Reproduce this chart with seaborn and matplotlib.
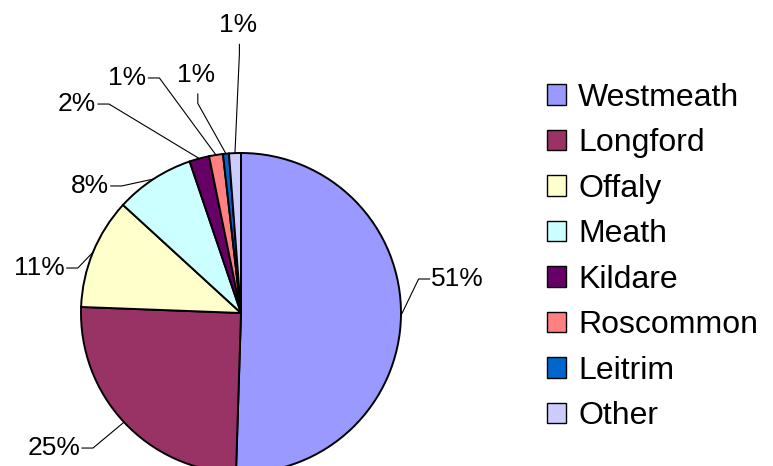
import numpy as np
import matplotlib
matplotlib.use("Agg")
import matplotlib.pyplot as plt
import seaborn as sns
from matplotlib.patches import Patch

# Data (share in %)
counties = ["Westmeath", "Longford", "Offaly", "Meath", "Kildare", "Roscommon", "Leitrim", "Other"]
shares = [50.5, 25.1, 11.2, 8.0, 2.0, 1.4, 0.6, 1.2]
colors = ["#9999FF", "#993366", "#FFFFCC", "#CCFFFF", "#660066", "#FF8080", "#0066CC", "#CCCCFF"]

# label placement (pie radius = 1, centre = 0,0)
label_x = [1.19, -1.005, -1.10, -0.825, -0.905, -0.59, -0.28, -0.02]
label_y = [0.2125, -0.844, 0.281, 0.794, 1.306, 1.469, 1.49, 1.80]
label_ha = ["left", "right", "right", "right", "right", "right", "center", "center"]

sns.set_style("white")
plt.rcParams["font.family"] = ["Liberation Sans", "DejaVu Sans"]
plt.rcParams["text.color"] = "black"

W, H, dpi = 773, 466, 100
cx, cy, r = 241, 313, 160  # pie centre / radius in pixels

fig = plt.figure(figsize=(W / dpi, H / dpi), dpi=dpi)
ax = fig.add_axes([0, 0, 1, 1])

wedges, _ = ax.pie(shares, colors=colors, startangle=90, counterclock=False,
                   radius=1, wedgeprops=dict(edgecolor="black", linewidth=1.4))

# pie() resets the limits, so set them afterwards
ax.set_xlim(-cx / r, (W - cx) / r)
ax.set_ylim((cy - H) / r, cy / r)
ax.set_aspect("equal")
ax.axis("off")

total = sum(shares)
for i, w in enumerate(wedges):
    pct = f"{int(shares[i] / total * 100 + 0.5)}%"
    mid = np.deg2rad((w.theta1 + w.theta2) / 2)
    bx, by = np.cos(mid), np.sin(mid)
    tx, ty, ha = label_x[i], label_y[i], label_ha[i]
    if ha == "center":
        # label above the pie, leader goes down from the bottom of the text
        ax.text(tx, ty, pct, ha="center", va="center", fontsize=19)
        a0 = (tx + 0.01, ty - 0.12)
        elbow = (a0[0], a0[1] - 0.06)
    else:
        ax.text(tx, ty, pct, ha=ha, va="center", fontsize=19)
        sgn = 1 if ha == "right" else -1
        a0 = (tx + sgn * 0.01, ty)
        elbow = (a0[0] + sgn * 0.07, ty)
    ax.plot([a0[0], elbow[0], bx], [a0[1], elbow[1], by], color="black", lw=0.8)

handles = [Patch(facecolor=c, edgecolor="black", linewidth=1.0) for c in colors]
leg = fig.legend(handles, counties, loc="center left", bbox_to_anchor=(547 / W, 1 - 257 / H),
                 frameon=False, fontsize=23, handlelength=0.6, handleheight=0.6,
                 handletextpad=0.38, labelspacing=0.485, borderpad=0, borderaxespad=0)

fig.savefig("out.png", dpi=dpi)
